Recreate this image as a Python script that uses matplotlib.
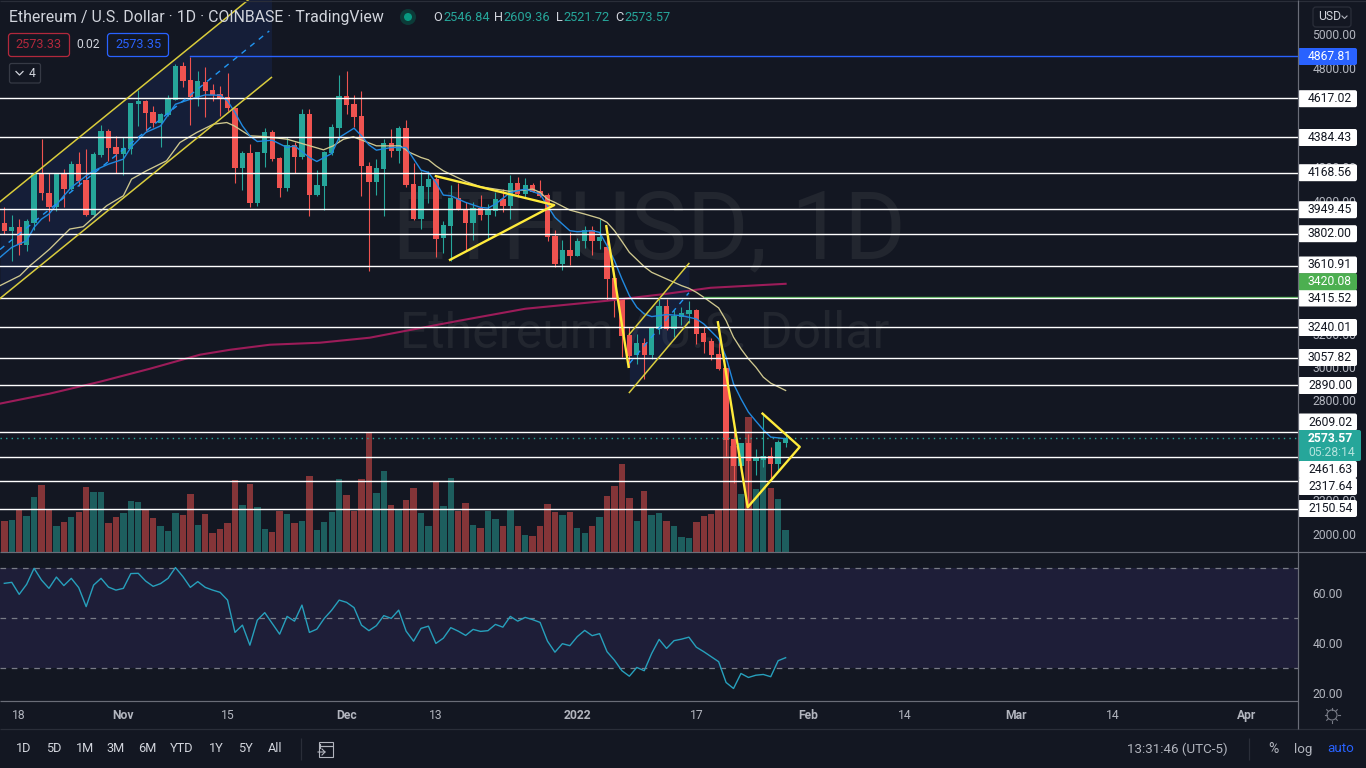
import numpy as np
import matplotlib
matplotlib.use("Agg")
import matplotlib.pyplot as plt
from matplotlib.patches import FancyBboxPatch, Circle, Rectangle

plt.rcParams['font.family'] = ['Roboto', 'DejaVu Sans']

# daily candles, first one is Oct 16 2021, last one Jan 29 2022
opens = [3868,3820,3844,3736,3864,4158,4048,3960,4168,4072,4218,4126,3916,4272,4420,4324,4282,4312,4582,4600,
         4534,4468,4516,4606,4810,4726,4624,4714,4666,4642,4624,4560,4198,4288,3988,4288,4414,4258,4078,4336,
         4264,4522,4036,4090,4288,4438,4630,4582,4510,4210,4114,4192,4348,4300,4438,4102,3892,4084,4132,3778,
         3850,4018,3952,3868,3958,3916,3940,4012,3970,4108,4042,4096,4060,4036,3790,3622,3706,3670,3760,3826,
         3760,3724,3538,3412,3196,3076,3148,3076,3232,3370,3232,3304,3322,3346,3208,3160,3082,2998,2566,2404,
         2542,2434,2440,2464,2416,2546.84]
highs = [3964,3916,3890,3890,4164,4374,4168,4168,4190,4236,4294,4310,4290,4456,4430,4390,4384,4588,4664,4604,
         4568,4528,4636,4820,4836,4864,4780,4804,4700,4690,4768,4564,4296,4340,4294,4436,4426,4264,4384,4356,
         4552,4552,4184,4300,4460,4756,4780,4636,4660,4234,4252,4372,4432,4450,4484,4226,4180,4180,4144,3880,
         4096,4106,3990,3990,4036,3980,4050,4070,4156,4144,4136,4104,4124,4044,3824,3764,3810,3776,3848,3848,
         3890,3844,3550,3412,3244,3200,3176,3238,3410,3410,3344,3364,3396,3350,3240,3176,3160,2998,2626,2542,
         2600,2506,2726,2518,2560,2609.36]
lows = [3800,3640,3676,3700,3824,4004,3880,3936,3960,4064,4088,3910,3900,4264,4236,4164,4152,4280,4450,4420,
        4444,4324,4510,4604,4684,4456,4568,4504,4600,4510,4540,4104,4066,3960,3970,4204,4240,4024,4060,4168,
        4250,3910,4030,3944,4276,4360,4520,4444,4030,3576,4036,3910,4260,4224,4080,3886,3832,3988,3660,3684,
        3640,3944,3700,3766,3884,3770,3906,3930,3890,4020,4020,4050,4020,3760,3600,3586,3616,3668,3716,3676,
        3710,3406,3300,3064,3000,3020,2926,3050,3200,3224,3184,3256,3268,3140,3084,3046,2986,2464,2302,2368,
        2160,2350,2398,2320,2370,2521.72]
closes = [3816,3844,3736,3876,4158,4044,3964,4168,4072,4218,4120,3916,4282,4420,4318,4282,4318,4588,4600,4528,
          4468,4522,4612,4810,4720,4624,4720,4660,4636,4618,4560,4198,4288,3988,4294,4414,4252,4078,4336,4264,
          4522,4036,4096,4294,4444,4630,4576,4504,4210,4114,4198,4348,4300,4438,4096,3892,4090,4132,3772,3856,
          4018,3946,3868,3958,3916,3946,4012,3970,4108,4042,4096,4054,4030,3784,3622,3706,3670,3760,3826,3760,
          3784,3532,3412,3190,3070,3148,3076,3238,3370,3232,3310,3328,3346,3202,3154,3076,2992,2560,2404,2542,
          2434,2452,2464,2416,2548,2573.57]
volumes = [31,32,43,36,55,67,43,26,30,35,40,65,60,60,29,35,39,51,50,43,
           34,26,21,39,37,58,27,38,19,23,29,72,47,68,45,23,20,41,38,29,
           31,76,22,30,40,73,57,41,73,119,59,81,47,43,52,64,39,26,70,46,
           74,41,49,27,24,41,33,26,43,26,17,16,26,48,40,37,40,24,19,26,
           35,56,66,88,54,31,61,37,39,31,26,15,14,30,36,38,43,139,106,58,
           135,63,96,64,53,22]
rsi = [64.0,64.4,59.6,63.6,70.0,65.3,62.0,66.5,63.1,66.0,62.3,54.7,63.3,66.0,62.5,61.3,62.0,67.9,68.0,64.9,
       62.8,63.9,66.0,70.3,66.7,62.4,64.7,62.4,61.3,60.4,57.3,44.4,47.3,39.3,49.3,52.3,48.0,43.7,50.8,48.9,
       55.3,44.4,45.7,50.0,53.3,57.3,56.4,54.3,47.3,45.1,47.1,51.1,50.0,53.3,44.9,40.9,46.0,46.9,40.0,42.1,
       46.3,44.9,43.2,45.6,44.8,45.1,47.6,46.5,50.8,48.9,50.4,49.5,48.4,40.9,36.5,39.9,39.1,42.7,45.2,43.1,
       43.9,36.7,33.3,29.1,26.9,30.4,29.1,36.0,41.6,38.0,41.1,41.7,42.5,38.5,36.7,34.7,32.7,24.4,22.0,28.0,
       26.4,27.3,27.6,26.7,33.1,34.3]

# moving averages, read at the visible bends
fast_days = [0.42,2,4,5,6,7,9,10,12,13,15,17,18,20,22,24,26,28,30,31,32,33,34,35,37,39,40,42,43,45,46,48,49,50,51,53,55,
             57,58,59,60,61,63,65,66,67,69,71,73,74,75,77,78,80,81,82,83,84,85,86,87,88,89,90,92,94,95,97,98,99,100,101,102,103,104,106]
fast_ma = [3660,3720,3760,3840,3890,3920,4030,4080,4150,4180,4220,4250,4320,4410,4450,4580,4610,4636,4634,4600,4530,4450,4390,4356,4364,4320,4330,4260,4236,4284,4380,4436,4390,4336,4304,4320,4320,
           4184,4170,4110,4034,4030,3990,3960,3956,3980,4050,4070,4040,3970,3900,3820,3814,3820,3810,3730,3640,3530,3430,3360,3320,3304,3310,3316,3310,3290,3260,3170,3060,2900,2810,2730,2676,2624,2580,2570]
slow_days = [0.42,3.1,4.45,5.8,7.1,9.8,11.6,13,14.75,17,18.1,20.1,22.8,24.6,26.85,29.1,30.9,31.9,34,35.8,39,41.6,43.9,45.2,46.6,47.9,49.3,51,54.2,
             55.5,57,58,59,60,63,65,67,69,72,73,74,75,77,79,81,82,83,84,85,87,88,90,92,93,94,95,97,98,99,100,101,102,103,104,106]
slow_ma = [3490,3550,3610,3660,3710,3830,3844,3900,3970,4030,4130,4180,4240,4350,4410,4460,4470,4450,4390,4386,4370,4336,4306,4330,4370,4384,4360,4330,4330,
           4290,4260,4246,4210,4180,4116,4084,4070,4056,4070,4050,4010,3990,3944,3920,3894,3870,3820,3756,3690,3604,3570,3530,3490,3474,3450,3420,3356,3280,3180,3110,3050,3000,2940,2904,2860]
long_days = [0.42,7.1,13.9,20.6,27.3,31.4,36.7,43.4,50.1,53.6,62.1,71,82,90,95.9,106]
long_ma = [2781,2841,2913,2991,3075,3105,3135,3147,3177,3207,3279,3351,3399,3441,3477,3501]

# price levels drawn on the chart
levels = [4617.02,4384.43,4168.56,3949.45,3802.00,3610.91,3415.52,3240.01,3057.82,2890.00,2609.02,2461.63,2317.64,2150.54]
ath_price = 4867.81
ma_price = 3420.08
last_price = 2573.57

price_ticks = [5000,4800,4600,4400,4200,4000,3800,3600,3400,3200,3000,2800,2600,2400,2200,2000]
rsi_ticks = [60,40,20]
x_tick_days = [3,17,31,47,59,78,94,109,122,137,150,168]
x_tick_labels = ['18','Nov','15','Dec','13','2022','17','Feb','14','Mar','14','Apr']
range_buttons = ['1D','5D','1M','3M','6M','YTD','1Y','5Y','All']

BG = '#131722'
RED = '#ef5350'
TEAL = '#26a69a'
YELLOW = '#ffeb3b'
CHANNEL = '#d9cc3c'
BLUE = '#2962ff'
TEXT = '#b2b5be'
PX = 0.72  # one pixel in points

W, H = 1366, 768
fig = plt.figure(figsize=(W / 100, H / 100), dpi=100, facecolor=BG)

def pane(left, top, right, bottom):
    return fig.add_axes([left / W, 1 - bottom / H, (right - left) / W, (bottom - top) / H])

ax_vol = pane(0, 0, 1298.3, 552.3)
ax = pane(0, 0, 1298.3, 552.3)
ax_rsi = pane(0, 552.3, 1298.3, 701)
ui = fig.add_axes([0, 0, 1, 1], zorder=10)
ax_vol.set_zorder(1)
ax.set_zorder(2)
ax_rsi.set_zorder(2)

xlim = (0.42, 174.9)
days = np.arange(1, len(opens) + 1)
opens = np.array(opens, dtype=float)
closes = np.array(closes, dtype=float)
highs = np.array(highs, dtype=float)
lows = np.array(lows, dtype=float)
up = closes >= opens

# volume and watermark sit behind the price pane
ax_vol.set_facecolor(BG)
ax_vol.set_xlim(*xlim)
ax_vol.set_ylim(0, 552.3)
ax_vol.axis('off')
ax_vol.bar(days, volumes, width=0.86, color=['#1d5e5e' if u else '#843538' for u in up], linewidth=0)
ax_vol.text(0.5, 1 - 232 / 552.3, 'ETHUSD, 1D', transform=ax_vol.transAxes, ha='center', va='center',
            fontsize=68, color='#22262f', zorder=0)
ax_vol.text(0.4965, 1 - 333 / 552.3, 'Ethereum / U.S. Dollar', transform=ax_vol.transAxes, ha='center', va='center',
            fontsize=36, color='#22262f', zorder=0)

ax.patch.set_visible(False)
ax.set_xlim(*xlim)
ax.set_ylim(1887.6, 5206.3)

# channels
up_x = [0.42, 36.9]
ax.fill_between(up_x, [3413, 4741], [3994, 5320], color=BLUE, alpha=0.1, linewidth=0, zorder=1)
ax.plot(up_x, [3994, 5320], color=CHANNEL, lw=1.1, zorder=5)
ax.plot(up_x, [3413, 4741], color=CHANNEL, lw=1.1, zorder=5)
ax.plot([0.42, 36.6], [3707, 5020], color='#2196f3', lw=1, ls=(0, (4, 4)), zorder=5)
flag_x = [85, 93]
ax.fill_between(flag_x, [2848, 3272], [3198, 3623], color=BLUE, alpha=0.1, linewidth=0, zorder=1)
ax.plot(flag_x, [3198, 3623], color=CHANNEL, lw=1.1, zorder=5)
ax.plot(flag_x, [2848, 3272], color=CHANNEL, lw=1.1, zorder=5)
ax.plot(flag_x, [3022, 3447], color='#2196f3', lw=1, ls=(0, (4, 4)), zorder=5)

# candles
colors = [TEAL if u else RED for u in up]
ax.vlines(days, lows, highs, colors=colors, linewidth=PX * 1.1, zorder=3)
ax.bar(days, np.abs(closes - opens), bottom=np.minimum(opens, closes), width=0.72,
       color=colors, linewidth=0, zorder=3)

# moving averages
ax.plot(long_days, long_ma, color='#9c1c59', lw=1.5, zorder=3.5)
ax.plot(slow_days, slow_ma, color='#cfc88f', lw=0.95, zorder=3.5)
ax.plot(fast_days, fast_ma, color='#2189e0', lw=1.0, zorder=3.5)

# horizontal levels
for lvl in levels:
    ax.axhline(lvl, color='white', lw=1.0, zorder=4)
ax.plot([26, xlim[1]], [ath_price, ath_price], color=BLUE, lw=1.0, zorder=4)
ax.plot([95, xlim[1]], [ma_price, ma_price], color='#4caf50', lw=1.0, zorder=3.9)
ax.axhline(last_price, color=TEAL, lw=1.0, ls=(0, (1, 3)), zorder=4)

# yellow hand drawn patterns
ax.plot([59, 74.9, 60.9], [4148, 3974, 3645], color=YELLOW, lw=1.7, zorder=6)
ax.plot([81.9, 84.9], [3847, 3002], color=YELLOW, lw=1.7, zorder=6)
ax.plot([96.9, 100.9, 107.9, 102.9], [3270, 2158, 2521, 2721], color=YELLOW, lw=1.7, zorder=6)

ax.yaxis.tick_right()
ax.set_yticks(price_ticks)
ax.set_yticklabels(['%.2f' % t for t in price_ticks])
ax.set_xticks([])
ax.tick_params(axis='y', length=0, pad=10, labelsize=8.7, labelcolor=TEXT)
for s in ax.spines.values():
    s.set_visible(False)

# RSI pane
ax_rsi.set_facecolor(BG)
ax_rsi.set_xlim(*xlim)
ax_rsi.set_ylim(17.0, 76.4)
ax_rsi.axhspan(30, 70, color='#1e1e38', linewidth=0, zorder=1)
for v in [70, 50, 30]:
    ax_rsi.axhline(v, color='#787b86', lw=0.9, ls=(0, (4.5, 4.5)), zorder=2)
ax_rsi.plot(days, rsi, color='#27a0bc', lw=1.0, zorder=3)
ax_rsi.yaxis.tick_right()
ax_rsi.set_yticks(rsi_ticks)
ax_rsi.set_yticklabels(['%.2f' % t for t in rsi_ticks])
ax_rsi.tick_params(axis='y', length=0, pad=10, labelsize=8.7, labelcolor=TEXT)
ax_rsi.set_xticks(x_tick_days)
ax_rsi.set_xticklabels(x_tick_labels)
ax_rsi.tick_params(axis='x', length=0, pad=6, labelsize=8.7, labelcolor=TEXT)
for lab in ax_rsi.get_xticklabels():
    if not lab.get_text().isdigit() or lab.get_text() == '2022':
        lab.set_fontweight('bold')
for s in ax_rsi.spines.values():
    s.set_visible(False)

# chrome drawn in pixel coordinates
ui.set_xlim(0, W)
ui.set_ylim(H, 0)
ui.axis('off')
ui.patch.set_visible(False)

def hline(y, x0, x1, color, lw=1.0):
    ui.plot([x0, x1], [y, y], color=color, lw=lw * PX * 1.2, solid_capstyle='butt')

def vline(x, y0, y1, color, lw=1.0):
    ui.plot([x, x], [y0, y1], color=color, lw=lw * PX * 1.2, solid_capstyle='butt')

def box(x0, y0, x1, y1, face, edge='none', r=2):
    ui.add_patch(FancyBboxPatch((x0 + r, y0 + r), x1 - x0 - 2 * r, y1 - y0 - 2 * r,
                                boxstyle='round,pad=%d,rounding_size=%d' % (r, r),
                                facecolor=face, edgecolor=edge, lw=0.9))

def txt(x, y, s, color=TEXT, size=8.7, ha='left', weight='normal'):
    return ui.text(x, y, s, color=color, fontsize=size, ha=ha, va='center', fontweight=weight)

hline(0.5, 0, W, '#2a2e39')
hline(552.3, 0, W, '#6a6d78')
hline(701, 0, 1298, '#6a6d78')
hline(729, 0, W, '#2a2e39')
vline(1298.3, 0, 729, '#6a6d78')

# axis price labels, later ones cover earlier ones
label_rows = [(ath_price, 56.5, BLUE, 'white'), (4617.02, 98.7, 'white', BG), (4384.43, 137.5, 'white', BG),
              (4168.56, 172.7, 'white', BG), (3949.45, 209.7, 'white', BG), (3802.00, 233.7, 'white', BG),
              (3610.91, 265, 'white', BG), (3415.52, 298, 'white', BG), (ma_price, 281.7, '#4caf50', 'white'),
              (3240.01, 327.5, 'white', BG), (3057.82, 357.5, 'white', BG), (2890.00, 385.5, 'white', BG),
              (2609.02, 422, 'white', BG), (2461.63, 469.5, 'white', BG), (2317.64, 486.5, 'white', BG),
              (2150.54, 508.5, 'white', BG)]
for price, y, face, fg in label_rows:
    box(1298, y - 8.5, 1357, y + 8.5, face)
    txt(1308, y, '%.2f' % price, color=fg)

box(1298, 430, 1361, 461, TEAL)
txt(1308, 438.5, '%.2f' % last_price, color='white', weight='bold')
txt(1308, 452.7, '05:28:14', color='#b4e3dd')

# currency selector
box(1313, 7, 1351, 27, BG, edge='#2a2e39', r=3)
txt(1318, 17, 'USD', color='#d1d4dc')
ui.plot([1342, 1344.5, 1347], [16, 18.5, 16], color=TEXT, lw=0.8)

# header
txt(9, 17.5, 'Ethereum / U.S. Dollar · 1D · COINBASE · TradingView', color='#d1d4dc', size=11.4)
ui.add_patch(Circle((408, 17), 8, facecolor='#0c3b38', edgecolor='none'))
ui.add_patch(Circle((408, 17), 4, facecolor='#089981', edgecolor='none'))
ohlc = [('O', '2546.84', 433, 443), ('H', '2609.36', 494, 503), ('L', '2521.72', 556, 563), ('C', '2573.57', 615, 624)]
for name, val, x_name, x_val in ohlc:
    txt(x_name, 17.5, name, color='#d1d4dc', size=9.2)
    txt(x_val, 17.5, val, color=TEAL, size=9.2)

box(8.5, 33.5, 69.5, 56.5, BG, edge='#b2283c', r=3)
txt(39, 45, '2573.33', color='#b2283c', ha='center', size=9.2)
txt(88, 45, '0.02', color='#d1d4dc', ha='center')
box(107.5, 33.5, 168.5, 56.5, BG, edge=BLUE, r=3)
txt(138, 45, '2573.35', color=BLUE, ha='center', size=9.2)
box(9.5, 63.5, 40.5, 83, BG, edge='#363a45', r=2)
ui.plot([16, 19.5, 23], [71.5, 75, 71.5], color='#d1d4dc', lw=0.9)
txt(32, 73.5, '4', color='#d1d4dc', ha='center')

# bottom toolbar
button_x = [24, 54, 85, 116, 147, 182, 216, 245, 275]
for x, name in zip(button_x, range_buttons):
    txt(x, 749, name, color='#d1d4dc', ha='center', size=9.2)
vline(301, 738, 760, '#2a2e39')
ui.plot([320, 320], [748, 744], color=TEXT, lw=0.8)
ui.add_patch(Rectangle((319, 742), 14, 15, facecolor='none', edgecolor=TEXT, lw=0.8))
hline(746, 319, 333, TEXT)
ui.plot([318, 325, 322], [752, 752, 749], color=TEXT, lw=0.8)
ui.plot([325, 322], [752, 755], color=TEXT, lw=0.8)

txt(1127, 749, '13:31:46 (UTC-5)', color='#b2b5be', size=9.6)
vline(1249, 738, 760, '#2a2e39')
txt(1273, 749, '%', color='#b2b5be', ha='center', size=10)
txt(1303, 749, 'log', color='#b2b5be', ha='center', size=9.6)
txt(1341, 749, 'auto', color=BLUE, ha='center', size=9.6)

# settings icon
ui.add_patch(Circle((1332, 715), 5, facecolor='none', edgecolor='#787b86', lw=0.8))
for a in np.arange(0, 360, 45):
    c, s = np.cos(np.radians(a)), np.sin(np.radians(a))
    ui.plot([1332 + 5.5 * c, 1332 + 7.5 * c], [715 + 5.5 * s, 715 + 7.5 * s], color='#787b86', lw=0.8)

fig.savefig('out.png', dpi=100, facecolor=BG)
